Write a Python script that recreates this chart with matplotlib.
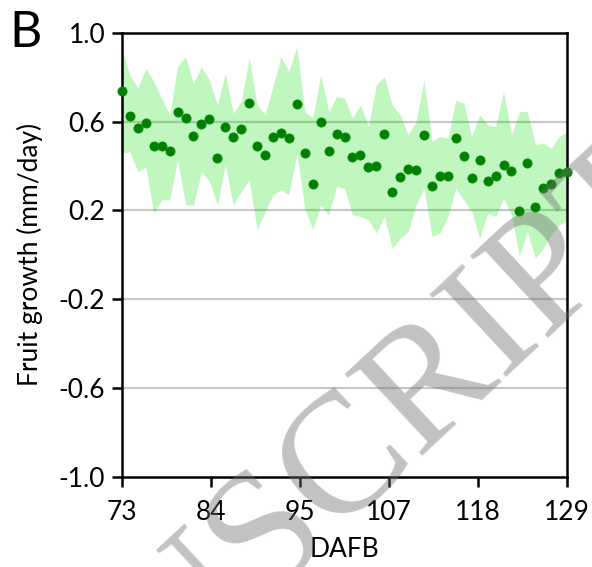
import numpy as np
import matplotlib
matplotlib.use("Agg")
import matplotlib.pyplot as plt

plt.rcParams['font.family'] = ['Lato', 'DejaVu Sans']

# Days after full bloom
days = list(range(73, 130))

# Mean daily fruit growth (mm/day)
growth = [0.736, 0.627, 0.571, 0.593, 0.491, 0.491, 0.468, 0.645, 0.616, 0.537,
          0.590, 0.613, 0.438, 0.578, 0.532, 0.565, 0.685, 0.492, 0.450, 0.533,
          0.548, 0.526, 0.679, 0.461, 0.317, 0.600, 0.468, 0.544, 0.532, 0.441,
          0.452, 0.395, 0.402, 0.544, 0.282, 0.350, 0.389, 0.384, 0.539, 0.309,
          0.357, 0.354, 0.527, 0.447, 0.347, 0.429, 0.335, 0.357, 0.407, 0.378,
          0.197, 0.416, 0.216, 0.299, 0.320, 0.368, 0.374]

# Upper and lower limits of the shaded range
upper = [0.923, 0.811, 0.751, 0.841, 0.781, 0.706, 0.631, 0.848, 0.893, 0.773,
         0.848, 0.788, 0.676, 0.818, 0.638, 0.691, 0.886, 0.676, 0.631, 0.758,
         0.893, 0.826, 0.938, 0.646, 0.616, 0.811, 0.646, 0.713, 0.706, 0.616,
         0.676, 0.578, 0.766, 0.803, 0.676, 0.631, 0.541, 0.601, 0.788, 0.511,
         0.533, 0.526, 0.698, 0.683, 0.533, 0.631, 0.586, 0.578, 0.736, 0.541,
         0.646, 0.646, 0.496, 0.503, 0.480, 0.533, 0.556]
lower = [0.458, 0.465, 0.375, 0.398, 0.188, 0.248, 0.248, 0.428, 0.225, 0.225,
         0.375, 0.330, 0.225, 0.405, 0.225, 0.285, 0.338, 0.113, 0.195, 0.270,
         0.293, 0.270, 0.458, 0.210, 0.113, 0.225, 0.180, 0.308, 0.300, 0.180,
         0.173, 0.158, 0.098, 0.173, 0.030, 0.075, 0.105, 0.225, 0.300, 0.083,
         0.098, 0.173, 0.300, 0.248, 0.195, 0.075, 0.188, 0.173, 0.255, 0.180,
         -0.007, 0.105, -0.015, 0.030, 0.090, 0.135, 0.150]

xtick_labels = ['73', '84', '95', '107', '118', '129']
ytick_values = [1.0, 0.6, 0.2, -0.2, -0.6, -1.0]
ytick_labels = ['1.0', '0.6', '0.2', '-0.2', '-0.6', '-1.0']

fig = plt.figure(figsize=(5.92, 5.67), dpi=100)
ax = fig.add_axes([0.206, 0.159, 0.752, 0.783])

# horizontal reference lines
for yv in ytick_values[1:-1]:
    ax.axhline(yv, color='#c8c8c8', lw=1.6, zorder=0)

ax.fill_between(days, lower, upper, color='#00e000', alpha=0.25, lw=0, zorder=1)
ax.plot(days, growth, 'o', color='#008000', markersize=6.6,
        markeredgecolor='#0a8a0a', markeredgewidth=0.6, zorder=3, clip_on=False)

ax.set_xlim(73, 129)
ax.set_ylim(-1.0, 1.0)
ax.set_xticks(np.linspace(73, 129, len(xtick_labels)))
ax.set_xticklabels(xtick_labels)
ax.set_yticks(ytick_values)
ax.set_yticklabels(ytick_labels)

for sp in ax.spines.values():
    sp.set_linewidth(1.8)
    sp.set_color('black')
ax.tick_params(axis='both', direction='out', length=7, width=1.8,
               labelsize=19, colors='black')
ax.tick_params(axis='x', pad=10)
ax.tick_params(axis='y', pad=5)

ax.set_xlabel('DAFB', fontsize=19, labelpad=8)
ax.set_ylabel('Fruit growth (mm/day)', fontsize=19)
ax.yaxis.set_label_coords(-0.178, 0.5)

fig.text(0.015, 0.982, 'B', fontsize=36, ha='left', va='top')

# diagonal watermark
fig.text(690 / 592, 1 - 201 / 567, 'MANUSCRIPT', family='Liberation Serif',
         fontsize=124, color='#6e6e6e', alpha=0.42, rotation=43,
         rotation_mode='anchor', ha='right', va='baseline', zorder=10)

fig.savefig('out.png', dpi=100)
